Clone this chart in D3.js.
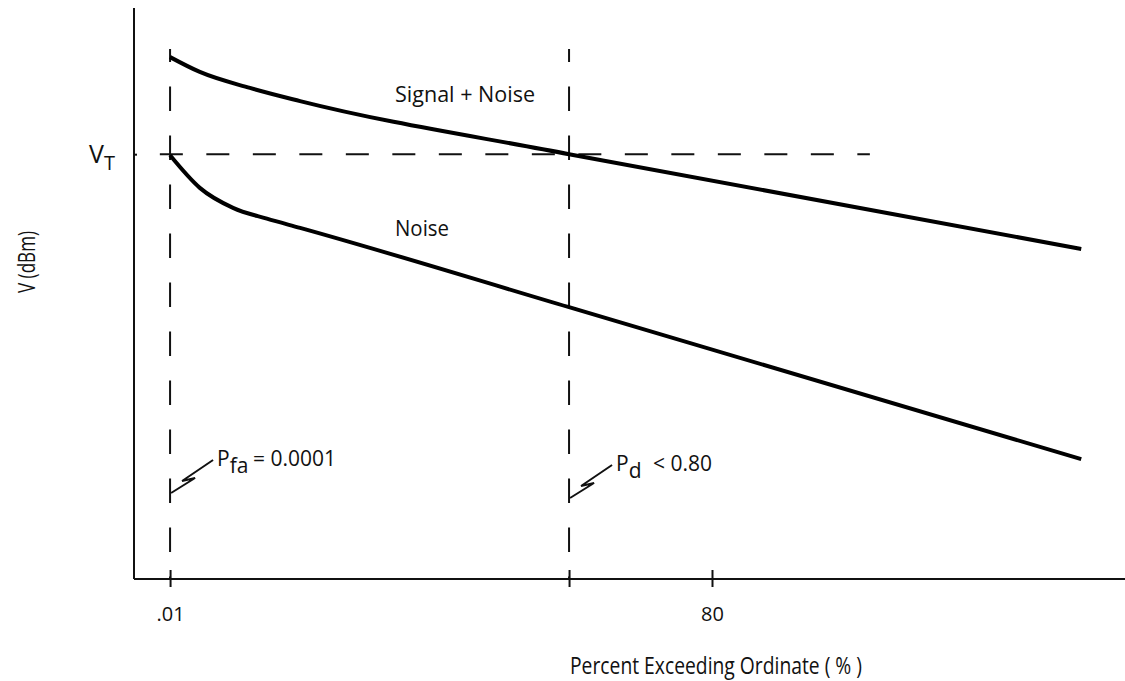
<!DOCTYPE html>
<html>
<head>
<meta charset="utf-8">
<script src="https://cdn.jsdelivr.net/npm/d3@7"></script>
<style>
body{margin:0;background:#fff;}
#canvas{width:1125px;height:681px;}
text{font-family:"Open Sans",sans-serif;fill:#111;}
</style>
</head>
<body>
<div id="canvas" class="canvas"></div>
<script>
// curve data (x = percent exceeding ordinate, y = relative level)
var xSignal = [0.01, 4.4, 11.8, 19.2, 58.9, 134.5],
    ySignal = [91.4, 88.8, 86.0, 83.7, 74.4, 57.8];
var xNoise = [0.01, 4.4, 9.3, 14.3, 19.2, 58.9, 134.5],
    yNoise = [74.2, 68.5, 65.0, 63.1, 61.5, 47.6, 21.0];

// threshold + probability markers
var vT = 74.4;
var xPfa = 0.01, xPd = 58.9;

// ticks
var xTickValues = [0.01, 58.9, 80],
    xTickLabels = [".01", "", "80"];

var m = {t:8, r:0, b:102, l:134};
var outerWidth = 1125, outerHeight = 681;
var w = outerWidth - m.l - m.r,
    h = outerHeight - m.t - m.b;

var svg = d3.select('.canvas')
    .append('svg')
    .attr('width', outerWidth)
    .attr('height', outerHeight);

var plot = svg.append('g')
    .attr('transform', 'translate(' + m.l + ',' + m.t + ')');

var scaleX = d3.scaleLinear().domain([0, 80]).range([36, 578]);
var scaleY = d3.scaleLinear().domain([0, 100]).range([h, 0]);

// dashed guide lines
var dashTop = 92.8;
plot.selectAll('.vdash')
    .data([xPfa, xPd])
    .enter()
    .append('line')
    .attr('class', 'vdash')
    .attr('x1', function(d){ return scaleX(d); })
    .attr('x2', function(d){ return scaleX(d); })
    .attr('y1', scaleY(dashTop))
    .attr('y2', scaleY(0))
    .style('stroke', '#111')
    .style('stroke-width', 2)
    .style('stroke-dasharray', '24.5,24.5')
    .style('stroke-dashoffset', 11.5);

plot.append('line')
    .attr('x1', scaleX(-1.5))
    .attr('x2', scaleX(103.3))
    .attr('y1', scaleY(vT))
    .attr('y2', scaleY(vT))
    .style('stroke', '#111')
    .style('stroke-width', 2)
    .style('stroke-dasharray', '23,23.5');

// curves
var line = d3.line()
    .x(function(d){ return scaleX(d[0]); })
    .y(function(d){ return scaleY(d[1]); })
    .curve(d3.curveMonotoneX);

var series = [d3.zip(xSignal, ySignal), d3.zip(xNoise, yNoise)];
plot.selectAll('.curve')
    .data(series)
    .enter()
    .append('path')
    .attr('class', 'curve')
    .attr('d', line)
    .style('fill', 'none')
    .style('stroke', '#000')
    .style('stroke-width', 4);

// axes
var axisX = d3.axisBottom()
    .scale(scaleX)
    .tickValues(xTickValues)
    .tickFormat(function(d, i){ return xTickLabels[i]; })
    .tickSizeInner(8)
    .tickSizeOuter(0)
    .tickPadding(20);
var axisNodeX = plot.append('g')
    .attr('class', 'axis axis-x')
    .attr('transform', 'translate(0,' + h + ')')
    .call(axisX);
axisNodeX.select('.domain').attr('d', 'M0,0H' + w);
axisNodeX.selectAll('.tick line').attr('y1', -9);
axisNodeX.selectAll('.tick text').style('font-size', '20px').style('font-family', '"Open Sans",sans-serif');

var axisY = d3.axisLeft()
    .scale(scaleY)
    .tickValues([vT])
    .tickFormat('')
    .tickSizeInner(10)
    .tickSizeOuter(0);
var axisNodeY = plot.append('g')
    .attr('class', 'axis axis-y')
    .call(axisY);
axisNodeY.select('.domain').attr('d', 'M0,0V' + h);
axisNodeY.selectAll('.tick line').attr('x2', 3);

plot.selectAll('.axis path, .axis line')
    .style('stroke', '#111')
    .style('stroke-width', 2);

// V_T label
var vtLabel = svg.append('text')
    .attr('x', 89)
    .attr('y', m.t + scaleY(vT) + 9)
    .style('font-size', '25px');
vtLabel.append('tspan').text('V');
vtLabel.append('tspan').attr('dy', 7).style('font-size', '20px').text('T');

// curve labels
plot.append('text').attr('x', 261).attr('y', 94)
    .attr('textLength', 140).attr('lengthAdjust', 'spacingAndGlyphs')
    .style('font-size', '21px').text('Signal + Noise');
plot.append('text').attr('x', 261).attr('y', 228)
    .attr('textLength', 54).attr('lengthAdjust', 'spacingAndGlyphs')
    .style('font-size', '21px').text('Noise');

// probability callouts
var zig = [[1,0],[25,-15],[12,-12],[43,-33]];
var zigLine = d3.line();
var callouts = [
    {x: xPfa, y0: 485, sub: 'fa', rest: '= 0.0001', restX: 119},
    {x: xPd, y0: 490, sub: 'd', rest: '< 0.80', restX: 519}
];
callouts.forEach(function(c){
    var x0 = scaleX(c.x);
    plot.append('path')
        .attr('d', zigLine(zig.map(function(p){ return [x0 + p[0], c.y0 + p[1]]; })))
        .style('fill', 'none')
        .style('stroke', '#111')
        .style('stroke-width', 2);
    var t = plot.append('text')
        .attr('x', x0 + 47)
        .attr('y', c.y0 - 27)
        .style('font-size', '21px');
    t.append('tspan').text('P');
    t.append('tspan').attr('dy', 7).text(c.sub);
    plot.append('text')
        .attr('x', c.restX)
        .attr('y', c.y0 - 27)
        .style('font-size', '21px')
        .text(c.rest);
});

// axis titles
svg.append('text')
    .attr('x', 716)
    .attr('y', 674)
    .attr('text-anchor', 'middle')
    .attr('textLength', 292)
    .attr('lengthAdjust', 'spacingAndGlyphs')
    .style('font-size', '24px')
    .text('Percent Exceeding Ordinate ( % )');

svg.append('text')
    .attr('transform', 'translate(35,262) rotate(-90)')
    .attr('text-anchor', 'middle')
    .attr('textLength', 62)
    .attr('lengthAdjust', 'spacingAndGlyphs')
    .style('font-size', '24px')
    .text('V (dBm)');
</script>
</body>
</html>
